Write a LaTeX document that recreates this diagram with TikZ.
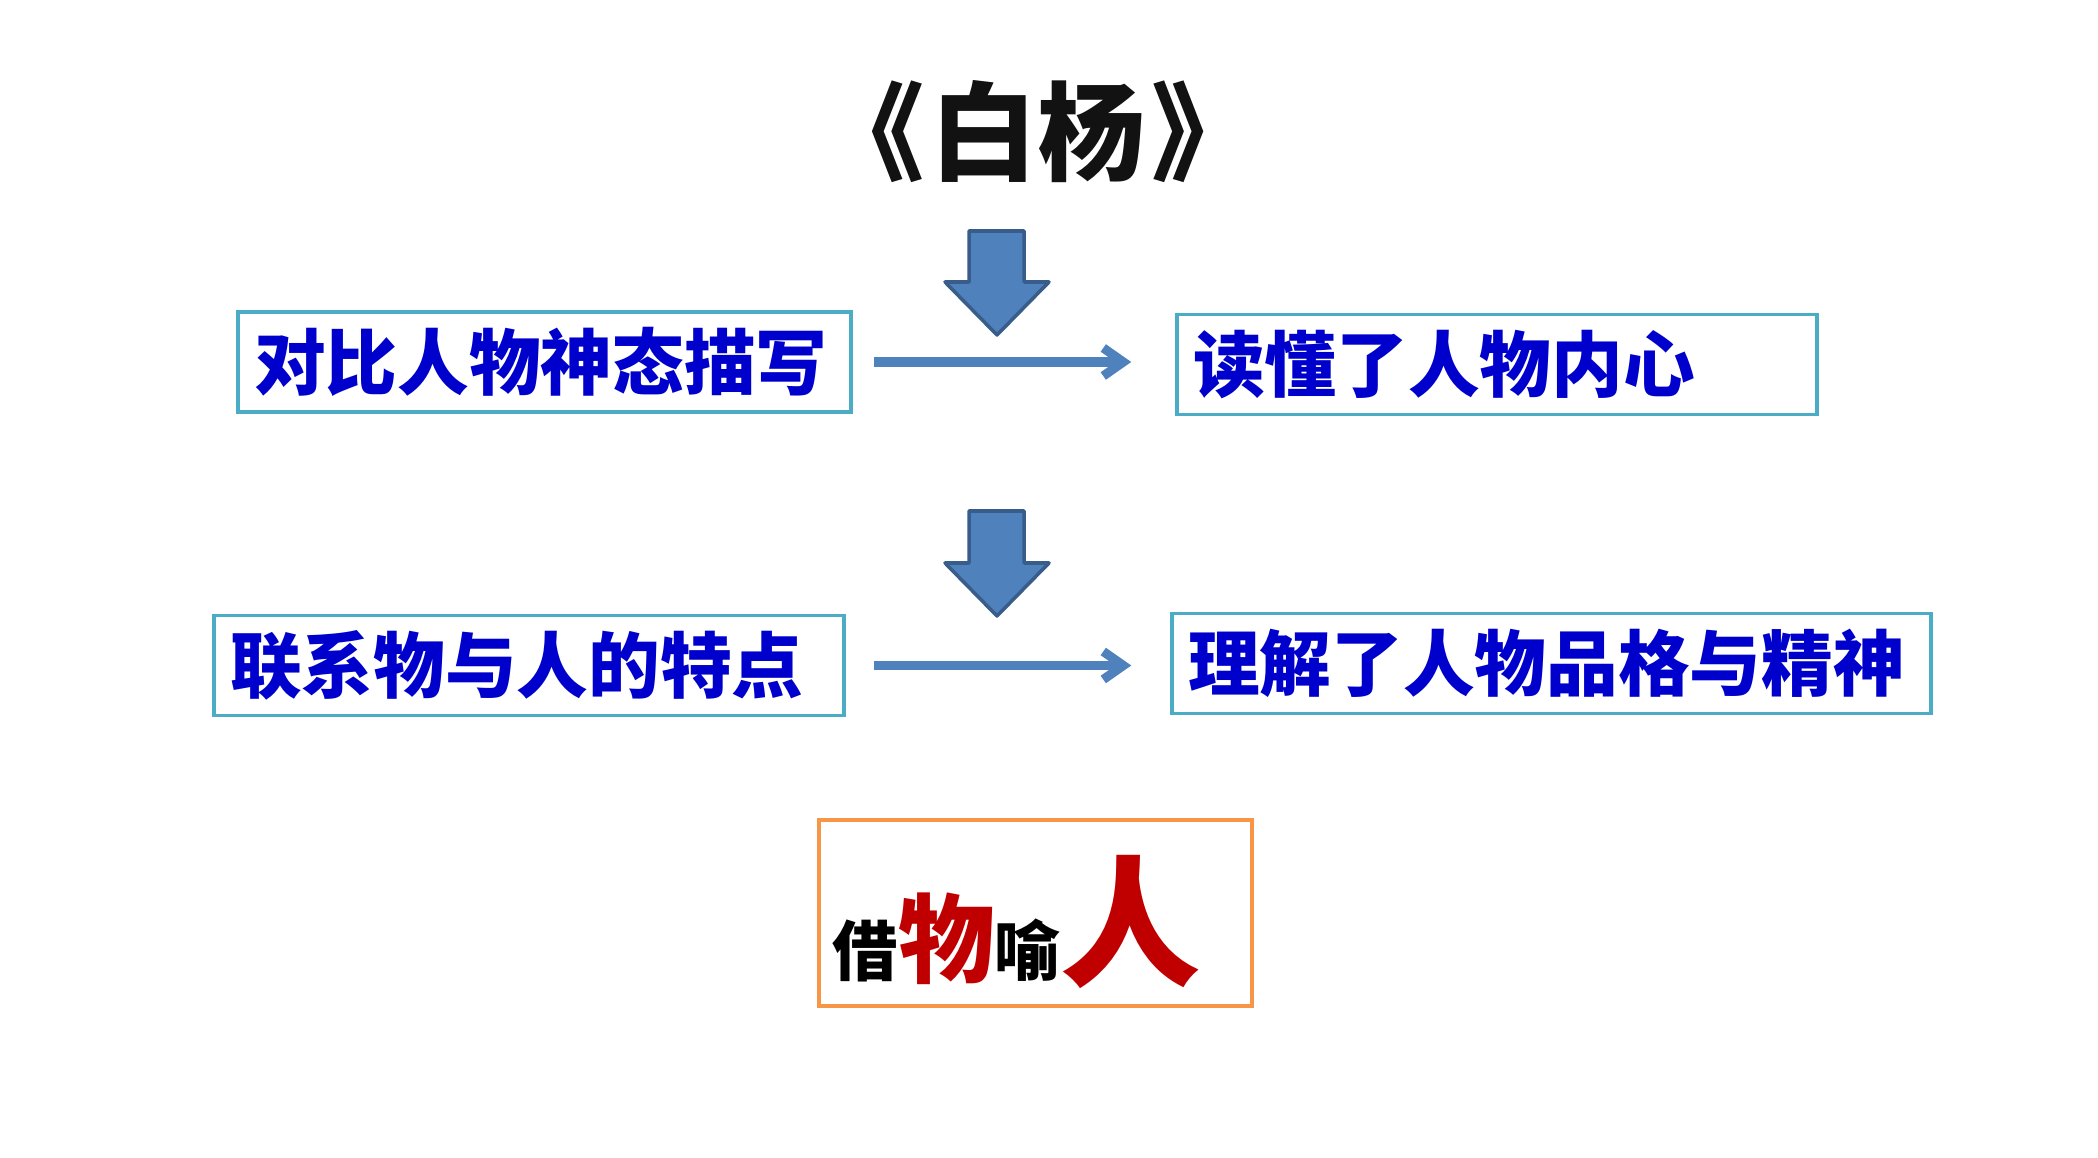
\documentclass[tikz,border=0pt]{standalone}
\usepackage{fontspec}
\usepackage{xcolor}
\usepackage{tikz}
\usetikzlibrary{arrows.meta, calc}
\setmainfont{Noto Sans CJK SC}

\definecolor{boxcyan}{RGB}{75,172,198}
\definecolor{arrblue}{RGB}{79,129,189}
\definecolor{arrdark}{RGB}{56,93,138}
\definecolor{txtblue}{RGB}{0,0,204}
\definecolor{boxorange}{RGB}{247,150,70}
\definecolor{yured}{RGB}{192,0,0}

\begin{document}
\begin{tikzpicture}[
    txtbox/.style={draw=boxcyan, line width=1pt, minimum height=1.0cm, inner xsep=0.16cm,
                   align=left, text=txtblue, font=\fontsize{20.4pt}{22pt}\selectfont\bfseries},
    blockarr/.style={fill=arrblue, draw=arrdark, line width=1pt, line join=round},
    flowarr/.style={draw=arrblue, line width=2.6pt, -{Straight Barb[length=0.2cm, width=0.28cm]}},
    orbox/.style={draw=boxorange, line width=1pt, minimum width=4.33cm, minimum height=1.86cm}
]
\fill[white] (0,0) rectangle (20.98,11.57);
\useasboundingbox (0,0) rectangle (20.98,11.57);

\node[anchor=base, text=black!93, font=\fontsize{30.5pt}{32pt}\selectfont\bfseries] (baiyang) at (10.38,9.84)
    {《\hspace{0.06em}白杨\hspace{0.06em}》};

% down arrows
\draw[blockarr] (9.69,9.26) -- (10.24,9.26) -- (10.24,8.75) -- (10.49,8.75) -- (9.97,8.22) -- (9.45,8.75) -- (9.69,8.75) -- cycle;
\draw[blockarr] (9.69,6.46) -- (10.24,6.46) -- (10.24,5.94) -- (10.49,5.94) -- (9.97,5.41) -- (9.45,5.94) -- (9.69,5.94) -- cycle;

\node[txtbox, text width=5.81cm] (dui)  at (5.445,7.95)  {对比人物神态描写};
\node[txtbox, text width=6.08cm] (du)   at (14.97,7.925) {读懂了人物内心};
\node[txtbox, text width=5.98cm] (lian) at (5.29,4.915)  {联系物与人的特点};
\node[txtbox, text width=7.27cm] (li)   at (15.515,4.935) {理解了人物品格与精神};

\draw[flowarr, shorten <=0.21cm, shorten >=0.44cm] (dui.east) -- (dui.east -| du.west);
\draw[flowarr, shorten <=0.28cm, shorten >=0.39cm] (lian.east) -- (lian.east -| li.west);

\node[orbox] (jie) at (10.355,2.44) {};
\node[anchor=base west, inner sep=0, font=\bfseries] (jietxt) at (8.32,1.82)
    {\fontsize{18.6pt}{20pt}\selectfont 借{\color{yured}\fontsize{27.5pt}{30pt}\selectfont 物}喻{\color{yured}\fontsize{40pt}{42pt}\selectfont 人}};
\end{tikzpicture}
\end{document}
